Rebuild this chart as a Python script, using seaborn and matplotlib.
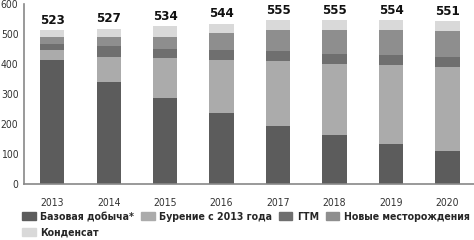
import pandas as pd
import numpy as np
import matplotlib
matplotlib.use("Agg")
import matplotlib.pyplot as plt
import seaborn as sns
from matplotlib.patches import Patch

# data
years = ["2013", "2014", "2015", "2016", "2017", "2018", "2019", "2020"]
base = [414, 339, 288, 237, 194, 164, 133, 109]
drilling = [32, 85, 131, 175, 215, 236, 262, 280]
gtm = [19, 35, 32, 36, 34, 33, 34, 34]
new_fields = [26, 32, 40, 54, 71, 79, 83, 87]
condensate = [23, 27, 34, 31, 34, 34, 34, 34]
totals = [523, 527, 534, 544, 555, 555, 554, 551]

labels = ["Базовая добыча*", "Бурение с 2013 года", "ГТМ",
          "Новые месторождения", "Конденсат"]
colors = ["#5c5c5c", "#ababab", "#6f6f6f", "#8e8e8e", "#d9d9d9"]

sns.set_theme(style="white")
plt.rcParams['font.family'] = ['DejaVu Sans']
plt.rcParams['font.stretch'] = 'condensed'

df = pd.DataFrame({"year": years, "base": base, "drilling": drilling,
                   "gtm": gtm, "new": new_fields, "cond": condensate})
cols = ["base", "drilling", "gtm", "new", "cond"]
cum = df[cols].cumsum(axis=1)

fig = plt.figure(figsize=(4.74, 2.4), dpi=100)
ax = fig.add_axes([24 / 474, 1 - 184 / 240, 450 / 474, 180 / 240])

# stacked bars: draw cumulative heights from the top layer down
for col, c in reversed(list(zip(cols, colors))):
    sns.barplot(x=df["year"], y=cum[col], color=c, width=0.43,
                saturation=1, ax=ax, linewidth=0)

for i, t in enumerate(totals):
    ax.text(i, t + 2, str(t), ha="center", va="bottom",
            fontsize=9.5, fontweight="bold", color="#111111")

ax.set_ylim(0, 600)
ax.set_xlim(-0.5, 7.47)
ax.set_yticks(range(0, 601, 100))
ax.set_xlabel("")
ax.set_ylabel("")
ax.tick_params(axis="both", length=0, labelsize=7.5, colors="#333333")
ax.tick_params(axis="y", pad=4)
ax.tick_params(axis="x", pad=10)
for s in ["top", "right"]:
    ax.spines[s].set_visible(False)
for s in ["left", "bottom"]:
    ax.spines[s].set_color("#888888")
    ax.spines[s].set_linewidth(1.2)

handles = [Patch(color=c, label=l) for c, l in zip(colors, labels)]
order = [0, 4, 1, 2, 3]
leg = fig.legend([handles[i] for i in order], [labels[i] for i in order],
                 ncol=4, loc="upper left", bbox_to_anchor=(22 / 474, 1 - 212 / 240),
                 frameon=False, handlelength=1.3, handleheight=0.8,
                 handletextpad=0.45, columnspacing=0.6, labelspacing=0.5,
                 borderaxespad=0, borderpad=0,
                 prop={"size": 7.6, "weight": "bold"})

fig.savefig("out.png", dpi=100)
